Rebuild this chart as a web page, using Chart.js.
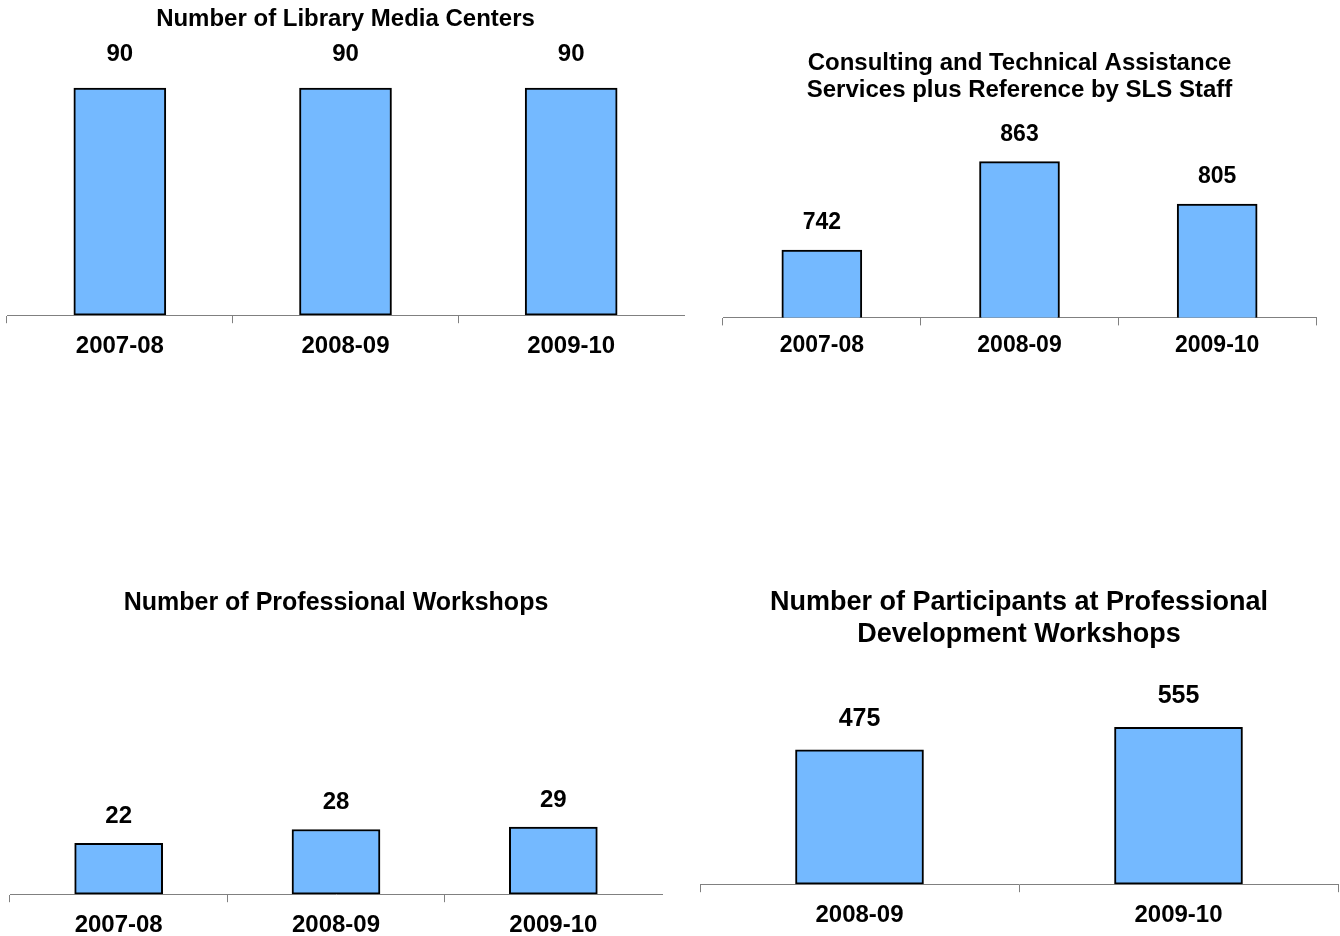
<!DOCTYPE html>
<html>
<head>
<meta charset="utf-8">
<script src="https://cdn.jsdelivr.net/npm/chart.js@4"></script>
<style>
  body { margin: 0; background: #fff; width: 1340px; height: 936px; position: relative; overflow: hidden; }
  .box { position: absolute; }
</style>
</head>
<body>
<div class="box" style="left:0;top:0;width:690px;height:370px"><canvas id="c1"></canvas></div>
<div class="box" style="left:700px;top:0;width:640px;height:365px"><canvas id="c2"></canvas></div>
<div class="box" style="left:0;top:560px;width:690px;height:389px"><canvas id="c3"></canvas></div>
<div class="box" style="left:690px;top:560px;width:650px;height:379px"><canvas id="c4"></canvas></div>
<script>
// data
const yearsThree = ['2007-08', '2008-09', '2009-10'];
const yearsTwo = ['2008-09', '2009-10'];
const mediaCenters = [90, 90, 90];
const consulting = [742, 863, 805];
const workshops = [22, 28, 29];
const participants = [475, 555];

const FONT = '"Liberation Sans", Arial, sans-serif';
const BAR_FILL = '#74b9ff';
const AXIS_GREY = '#808080';

// draws the value above each bar
const valueLabels = {
    id: 'valueLabels',
    afterDatasetsDraw(chart, args, opts) {
        const ctx = chart.ctx;
        const meta = chart.getDatasetMeta(0);
        ctx.save();
        ctx.font = 'bold ' + opts.size + 'px ' + FONT;
        ctx.fillStyle = '#000';
        ctx.textAlign = 'center';
        ctx.textBaseline = 'middle';
        meta.data.forEach((bar, i) => {
            ctx.fillText(chart.data.datasets[0].data[i], bar.x, bar.y - opts.offset);
        });
        ctx.restore();
    }
};

function makeChart(id, labels, values, cfg) {
    return new Chart(document.getElementById(id), {
        type: 'bar',
        data: {
            labels: labels,
            datasets: [{
                data: values,
                backgroundColor: BAR_FILL,
                borderColor: '#000',
                borderWidth: 2,
                borderSkipped: false,
                barThickness: cfg.barWidth
            }]
        },
        options: {
            responsive: true,
            maintainAspectRatio: false,
            animation: false,
            layout: { padding: { left: cfg.left, right: cfg.right, top: 0, bottom: 0 } },
            plugins: {
                legend: { display: false },
                tooltip: { enabled: false },
                title: {
                    display: true,
                    text: cfg.title,
                    color: '#000',
                    font: { family: FONT, size: cfg.titleSize, weight: 'bold', lineHeight: cfg.titleLH },
                    padding: { top: cfg.titleTop, bottom: cfg.titleBottom }
                },
                valueLabels: { size: cfg.labelSize, offset: cfg.labelOffset }
            },
            scales: {
                x: {
                    grid: {
                        display: true,
                        drawOnChartArea: false,
                        tickLength: 8,
                        offset: true,
                        // the closing tick at the right end only on some panels
                        color: c => (c.type === 'tick' || cfg.endTick) ? AXIS_GREY : 'rgba(0,0,0,0)'
                    },
                    border: { display: true, color: AXIS_GREY, width: 1 },
                    ticks: { color: '#000', padding: cfg.tickPad, font: { family: FONT, size: cfg.tickSize, weight: 'bold' } }
                },
                y: { display: false, min: cfg.min, max: cfg.max }
            }
        },
        plugins: [valueLabels]
    });
}

makeChart('c1', yearsThree, mediaCenters, {
    title: 'Number of Library Media Centers', titleSize: 24, titleLH: 1.2, titleTop: 5, titleBottom: 29,
    left: 7, right: 6, min: 0, max: 100, barWidth: 92, labelSize: 24, labelOffset: 34,
    tickSize: 24, tickPad: 9, endTick: false
});
makeChart('c2', yearsThree, consulting, {
    title: ['Consulting and Technical Assistance', 'Services plus Reference by SLS Staff'],
    titleSize: 24, titleLH: 1.125, titleTop: 49.5, titleBottom: 31,
    left: 23, right: 24, min: 650, max: 900, barWidth: 80, labelSize: 23, labelOffset: 27,
    tickSize: 23, tickPad: 6, endTick: true
});
makeChart('c3', yearsThree, workshops, {
    title: 'Number of Professional Workshops', titleSize: 25, titleLH: 1.2, titleTop: 28, titleBottom: 45,
    left: 10, right: 28, min: 0, max: 100, barWidth: 88, labelSize: 24, labelOffset: 27,
    tickSize: 24, tickPad: 9, endTick: false
});
makeChart('c4', yearsTwo, participants, {
    title: ['Number of Participants at Professional', 'Development Workshops'],
    titleSize: 27, titleLH: 1.185, titleTop: 27, titleBottom: 7,
    left: 10, right: 2, min: 0, max: 800, barWidth: 128, labelSize: 25, labelOffset: 31,
    tickSize: 24, tickPad: 9, endTick: true
});
</script>
</body>
</html>
